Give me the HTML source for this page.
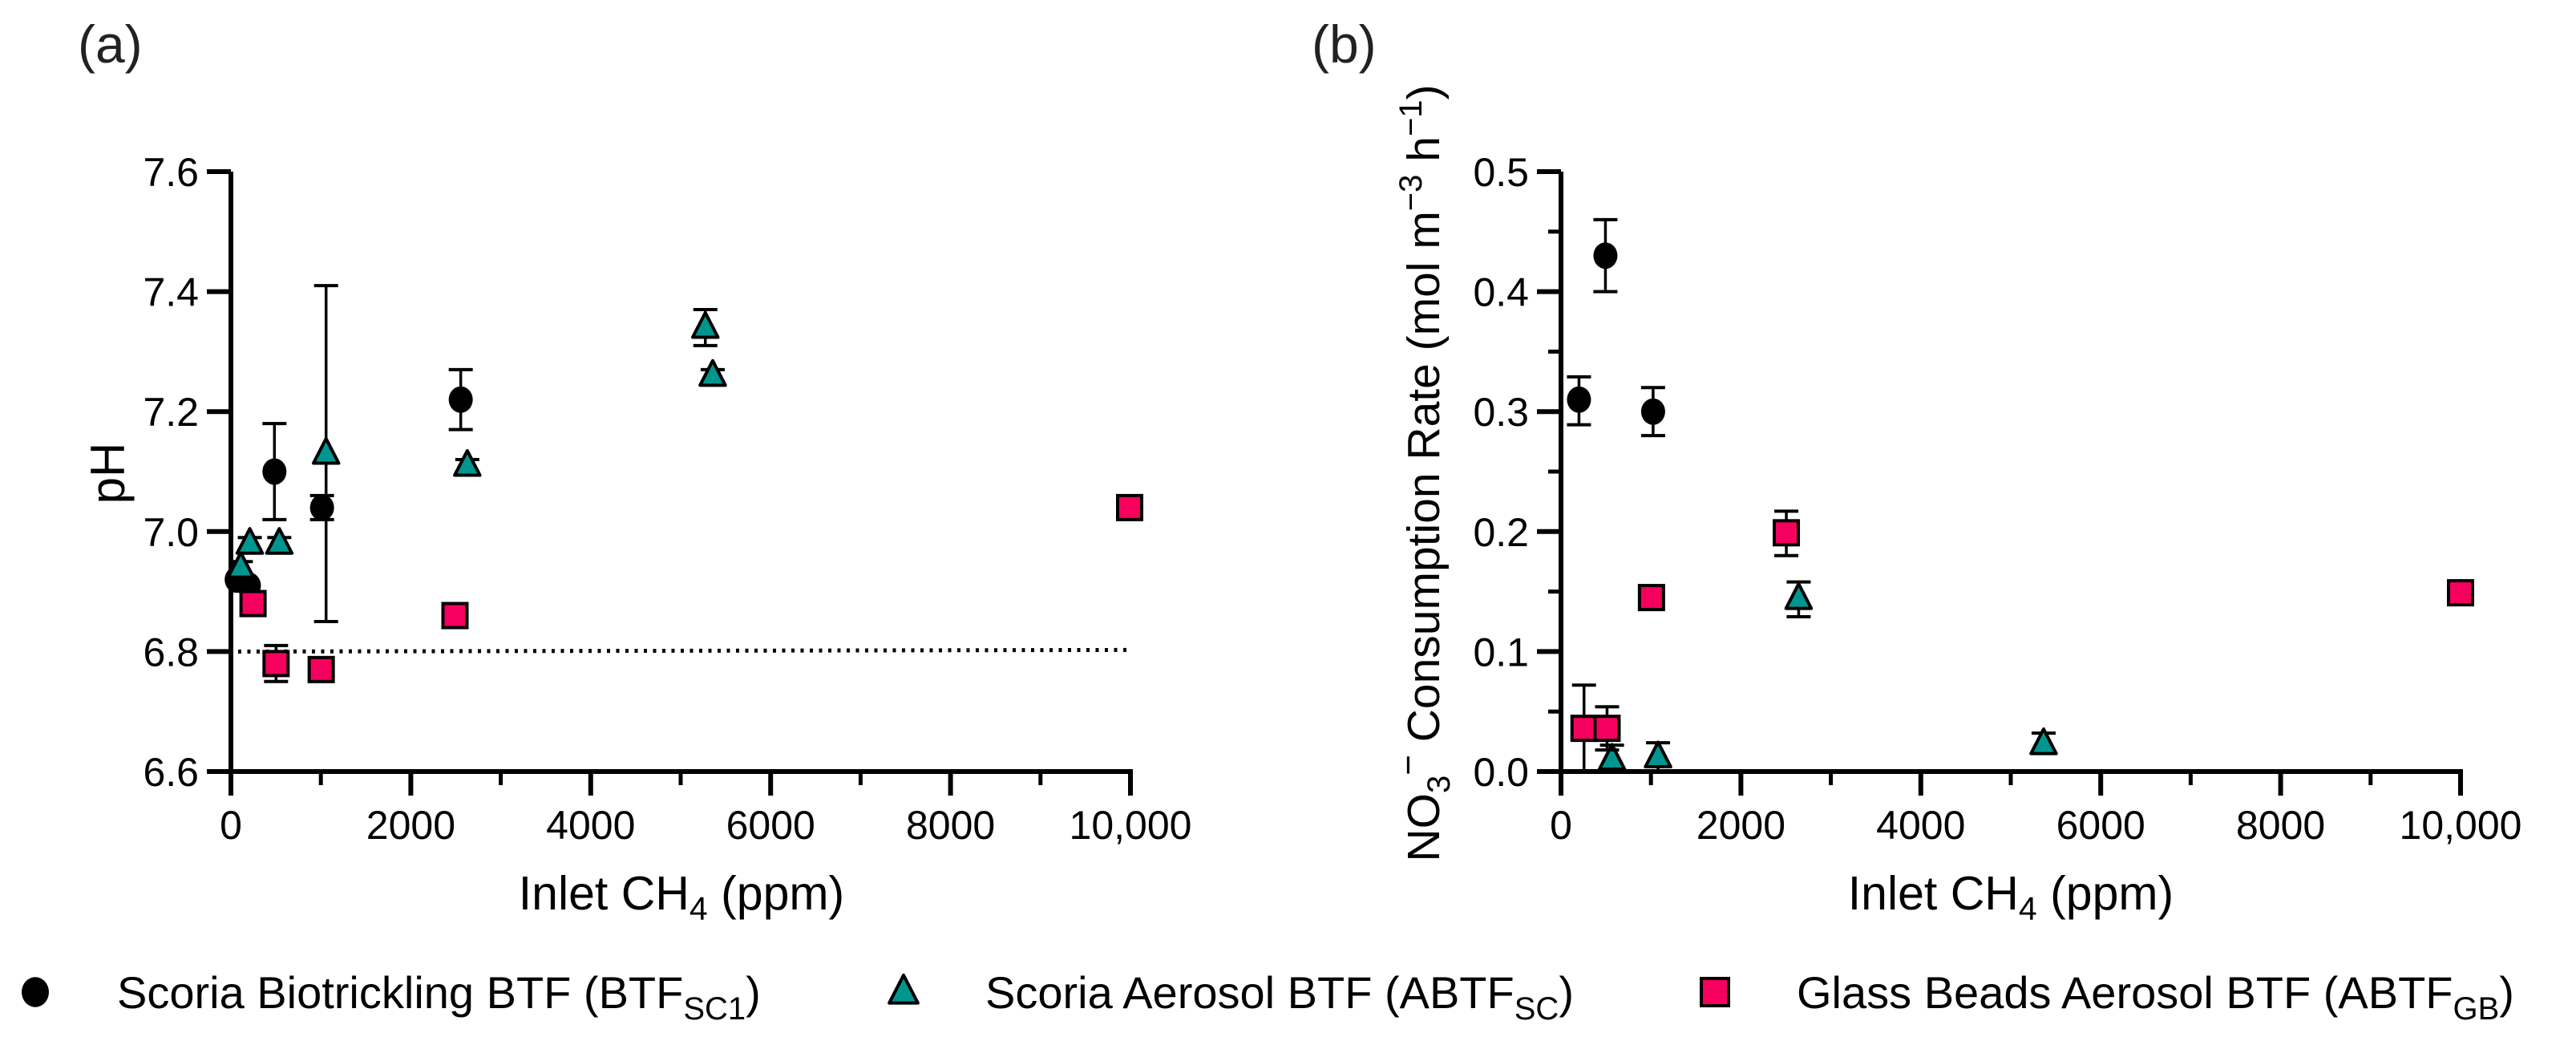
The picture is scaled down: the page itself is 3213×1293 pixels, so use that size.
<!DOCTYPE html>
<html><head><meta charset="utf-8"><style>
html,body{margin:0;padding:0;background:#fff;}
svg{display:block;font-family:"Liberation Sans",Arial,sans-serif;}
</style></head><body>
<svg id="fig" width="3213" height="1293" viewBox="0 0 3213 1293" xmlns="http://www.w3.org/2000/svg">
<g id="axA"></g>
<g id="axB"></g>
<g id="legend"></g>
</svg>
<script>
// ---- Panel (a) data: pH ----
const aCircX = [64, 200, 484, 1013, 2555];
const aCircY = [6.92, 6.91, 7.10, 7.04, 7.22];
const aCircHi = [0, 0, 0.08, 0.02, 0.05];
const aCircLo = [0, 0, 0.08, 0.02, 0.05];
const aTriX = [110, 210, 538, 1058, 2628, 5274, 5356];
const aTriY = [6.94, 6.98, 6.98, 7.13, 7.11, 7.34, 7.26];
const aTriHi = [0.01, 0.01, 0.01, 0.28, 0.01, 0.03, 0.01];
const aTriLo = [0.01, 0.01, 0.01, 0.28, 0.01, 0.03, 0.01];
const aSqX = [246, 502, 1004, 2491, 9991];
const aSqY = [6.88, 6.78, 6.77, 6.86, 7.04];
const aSqHi = [0, 0.03, 0, 0, 0];
const aSqLo = [0, 0.03, 0, 0, 0];
const aYTicks = [6.6, 6.8, 7.0, 7.2, 7.4, 7.6];
const aYTickLabels = ["6.6", "6.8", "7.0", "7.2", "7.4", "7.6"];
const thresholdPH = 6.8;
// ---- Panel (b) data: NO3- consumption ----
const bCircX = [200, 494, 1024];
const bCircY = [0.310, 0.430, 0.300];
const bCircHi = [0.019, 0.030, 0.020];
const bCircLo = [0.021, 0.030, 0.020];
const bTriX = [567, 1079, 2642, 5365];
const bTriY = [0.010, 0.012, 0.144, 0.023];
const bTriHi = [0.012, 0.012, 0.014, 0.009];
const bTriLo = [0.010, 0.012, 0.015, 0.008];
const bSqX = [256, 512, 1006, 2505, 10000];
const bSqY = [0.036, 0.036, 0.145, 0.199, 0.149];
const bSqHi = [0.036, 0.018, 0, 0.018, 0];
const bSqLo = [0.036, 0.018, 0, 0.019, 0];
const bYTicks = [0, 0.1, 0.2, 0.3, 0.4, 0.5];
const bYTickLabels = ["0.0", "0.1", "0.2", "0.3", "0.4", "0.5"];
const xTicks = [0, 2000, 4000, 6000, 8000, 10000];
const xTickLabels = ["0", "2000", "4000", "6000", "8000", "10,000"];
const xMinor = [1000, 3000, 5000, 7000, 9000];
const bYMinor = [0.05, 0.15, 0.25, 0.35, 0.45];

const NS = "http://www.w3.org/2000/svg";
const TEAL = "#00968f", PINK = "#f5005f";
function mk(tag, attrs, parent) {
  const e = document.createElementNS(NS, tag);
  for (const k in attrs) e.setAttribute(k, attrs[k]);
  parent.appendChild(e);
  return e;
}
function txt(parent, x, y, s, size, anchor) {
  const t = mk("text", {x: x, y: y, "font-size": size, "text-anchor": anchor || "middle", fill: "#000"}, parent);
  t.textContent = s;
  return t;
}
function marker(g, kind, cx, cy, s) {
  let m;
  if (kind === "circle") {
    m = mk("ellipse", {cx: cx, cy: cy, rx: s * 0.5, ry: s * 0.55, fill: "#000"}, g);
  } else if (kind === "tri") {
    const h = s * 1.0, w = s * 1.05;
    m = mk("polygon", {points: `${cx},${cy - h * 0.62} ${cx - w / 2},${cy + h * 0.4} ${cx + w / 2},${cy + h * 0.4}`,
      fill: TEAL, stroke: "#000", "stroke-width": 4, "stroke-linejoin": "round"}, g);
  } else {
    m = mk("rect", {x: cx - s / 2, y: cy - s / 2, width: s, height: s, fill: PINK, stroke: "#000", "stroke-width": 4}, g);
  }
  return m;
}
function errbar(g, x, yHi, yLo, yC) {
  const cap = 15;
  if (Math.abs(yHi - yC) > 1) {
    mk("line", {x1: x, y1: yC, x2: x, y2: yHi, stroke: "#000", "stroke-width": 3.5}, g);
    mk("line", {x1: x - cap, y1: yHi, x2: x + cap, y2: yHi, stroke: "#000", "stroke-width": 4}, g);
  }
  if (Math.abs(yLo - yC) > 1) {
    mk("line", {x1: x, y1: yC, x2: x, y2: yLo, stroke: "#000", "stroke-width": 3.5}, g);
    mk("line", {x1: x - cap, y1: yLo, x2: x + cap, y2: yLo, stroke: "#000", "stroke-width": 4}, g);
  }
}
function panel(g, cfg) {
  const X = v => cfg.x0 + (v - 0) / 10000 * (cfg.x1 - cfg.x0);
  const Y = v => cfg.yb - (v - cfg.ymin) / (cfg.ymax - cfg.ymin) * (cfg.yb - cfg.yt);
  const ax = mk("g", {}, g);
  
  
  mk("line", {x1: cfg.x0, y1: cfg.yt, x2: cfg.x0, y2: cfg.yb + 3, stroke: "#000", "stroke-width": 6}, ax);
  mk("line", {x1: cfg.x0 - 3, y1: cfg.yb, x2: cfg.x1 + 3, y2: cfg.yb, stroke: "#000", "stroke-width": 6}, ax);
  cfg.yTicks.forEach((v, i) => {
    const y = Y(v);
    mk("line", {x1: cfg.x0 - 30, y1: y, x2: cfg.x0, y2: y, stroke: "#000", "stroke-width": 6}, ax);
    const t = txt(ax, cfg.x0 - 40, y + 18, cfg.yLabels[i], 50, "end");
    
    
  });
  (cfg.yMinor || []).forEach(v => {
    const y = Y(v);
    mk("line", {x1: cfg.x0 - 16, y1: y, x2: cfg.x0, y2: y, stroke: "#000", "stroke-width": 5}, ax);
  });
  xTicks.forEach((v, i) => {
    const x = X(v);
    mk("line", {x1: x, y1: cfg.yb, x2: x, y2: cfg.yb + 30, stroke: "#000", "stroke-width": 6}, ax);
    const t = txt(ax, x, 1046, xTickLabels[i], 50, "middle");
    
    
  });
  xMinor.forEach(v => {
    const x = X(v);
    mk("line", {x1: x, y1: cfg.yb, x2: x, y2: cfg.yb + 17, stroke: "#000", "stroke-width": 5}, ax);
  });
  const xt = mk("text", {x: cfg.xTitleX, y: 1134, "font-size": 59, "text-anchor": "middle"}, g);
  
  
  xt.innerHTML = 'Inlet CH<tspan font-size="41" dy="13">4</tspan><tspan dy="-13"> (ppm)</tspan>';
  if (cfg.hline !== undefined) {
    const hl = mk("line", {x1: X(80), y1: Y(cfg.hline), x2: X(10000), y2: Y(cfg.hline) - 2, stroke: "#000", "stroke-width": 5, "stroke-dasharray": "4 7.5"}, g);
    
    
  }
  const series = [
    {kind: "circle", xs: cfg.cx, ys: cfg.cy, hi: cfg.chi, lo: cfg.clo, size: 30, name: "btf-sc1-point"},
    {kind: "tri", xs: cfg.tx, ys: cfg.ty, hi: cfg.thi, lo: cfg.tlo, size: 30, name: "abtf-sc-point"},
    {kind: "sq", xs: cfg.sx, ys: cfg.sy, hi: cfg.shi, lo: cfg.slo, size: 30, name: "abtf-gb-point"}
  ];
  series.forEach(s => {
    const sg = mk("g", {}, g);
    
    
    s.xs.forEach((xv, i) => {
      const cx = X(xv), cy = Y(s.ys[i]);
      const yHi = Y(s.ys[i] + s.hi[i]);
      const yLo = Math.min(Y(s.ys[i] - s.lo[i]), cfg.yb);
      errbar(sg, cx, yHi, yLo, cy);
      const m = marker(sg, s.kind, cx, cy, s.size);
      
      
    });
  });
}
const gA = document.getElementById("axA");
panel(gA, {id: "panel-a", x0: 288, x1: 1410, yt: 214, yb: 962, ymin: 6.6, ymax: 7.6,
  yTicks: aYTicks, yLabels: aYTickLabels, xTitleX: 850, hline: thresholdPH,
  cx: aCircX, cy: aCircY, chi: aCircHi, clo: aCircLo,
  tx: aTriX, ty: aTriY, thi: aTriHi, tlo: aTriLo,
  sx: aSqX, sy: aSqY, shi: aSqHi, slo: aSqLo});
const gB = document.getElementById("axB");
panel(gB, {id: "panel-b", x0: 1947, x1: 3069, yt: 214, yb: 962, ymin: 0, ymax: 0.5,
  yTicks: bYTicks, yLabels: bYTickLabels, yMinor: bYMinor, xTitleX: 2508,
  cx: bCircX, cy: bCircY, chi: bCircHi, clo: bCircLo,
  tx: bTriX, ty: bTriY, thi: bTriHi, tlo: bTriLo,
  sx: bSqX, sy: bSqY, shi: bSqHi, slo: bSqLo});

const la = txt(gA, 97, 78, "(a)", 66, "start");


la.setAttribute('fill', '#222');
const lb = txt(gB, 1636, 78, "(b)", 66, "start");


lb.setAttribute('fill', '#222');
const ya = mk("text", {x: 0, y: 0, "font-size": 60, "text-anchor": "middle", transform: "translate(155,590) rotate(-90)"}, gA);
ya.textContent = "pH";


const yb = mk("text", {x: 0, y: 0, "font-size": 57, "text-anchor": "middle", transform: "translate(1795,590) rotate(-90)"}, gB);
yb.innerHTML = 'NO<tspan font-size="40" dy="13">3</tspan><tspan font-size="44" dy="-37">−</tspan><tspan dy="24"> Consumption Rate (mol m</tspan><tspan font-size="40" dy="-22">−3</tspan><tspan dy="22"> h</tspan><tspan font-size="40" dy="-22">−1</tspan><tspan dy="22">)</tspan>';



const lg = document.getElementById("legend");
const legItems = [
  {kind: "circle", mx: 44, tx: 146, main: "Scoria Biotrickling BTF (BTF", sub: "SC1", name: "legend-entry-btf-sc1"},
  {kind: "tri", mx: 1127, tx: 1229, main: "Scoria Aerosol BTF (ABTF", sub: "SC", name: "legend-entry-abtf-sc"},
  {kind: "sq", mx: 2139, tx: 2241, main: "Glass Beads Aerosol BTF (ABTF", sub: "GB", name: "legend-entry-abtf-gb"}
];
legItems.forEach(it => {
  const g = mk("g", {}, lg);
  
  
  marker(g, it.kind, it.mx, 1237, 34);
  const t = mk("text", {x: it.tx, y: 1257, "font-size": 56}, g);
  t.innerHTML = it.main + '<tspan font-size="40" dy="14">' + it.sub + '</tspan><tspan dy="-14">)</tspan>';
});
</script>
</body></html>
